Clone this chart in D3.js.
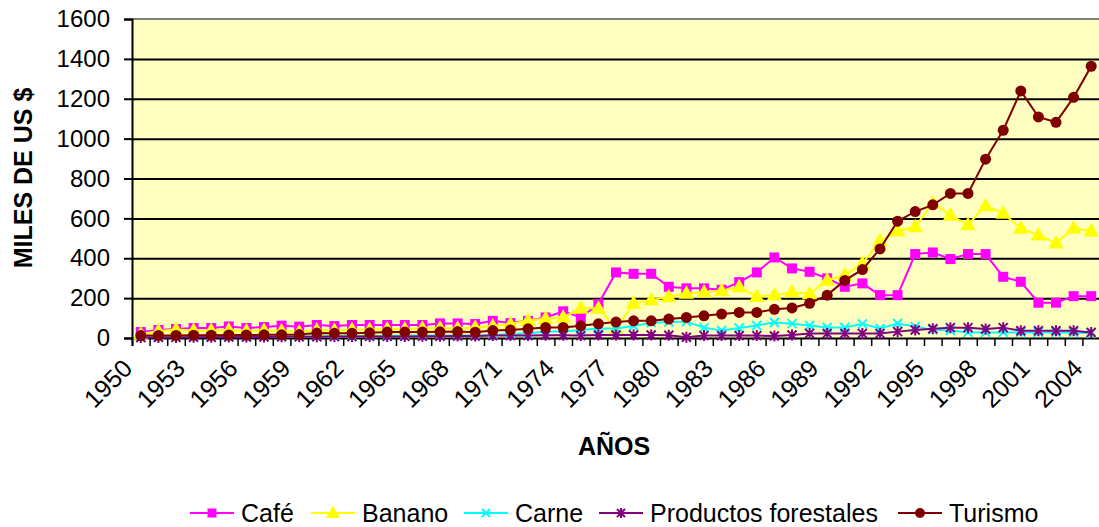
<!DOCTYPE html>
<html>
<head>
<meta charset="utf-8">
<script src="https://cdn.jsdelivr.net/npm/d3@7"></script>
<style>
  html, body { margin: 0; padding: 0; background: #ffffff; }
  svg { display: block; font-family: "Liberation Sans", Arial, sans-serif; }
</style>
</head>
<body>
<svg id="chart" width="1099" height="527"></svg>
<script>
// Exportaciones e ingresos por turismo, 1950-2004 (miles de US $)
const years = d3.range(1950, 2005);

const cafe = [30, 40, 45, 50, 50, 58, 50, 55, 62, 57, 65, 60, 65, 65, 65, 65, 65, 73, 73, 70,
  86, 75, 86, 103, 134, 103, 170, 329, 322, 322, 257, 249, 249, 242, 280, 329, 404, 349, 332, 299,
  257, 274, 215, 215, 421, 429, 396, 421, 421, 307, 282, 177, 177, 210, 210];

const banano = [20, 35, 42, 38, 38, 40, 35, 38, 35, 30, 40, 38, 42, 42, 45, 45, 48, 50, 48, 53,
  60, 70, 88, 97, 104, 149, 149, 45, 174, 190, 207, 224, 230, 237, 257, 208, 215, 230, 222, 290,
  316, 374, 487, 537, 558, 677, 616, 568, 663, 625, 550, 516, 476, 551, 537];

const carne = [5, 5, 6, 6, 6, 7, 7, 8, 8, 8, 8, 9, 10, 10, 10, 12, 12, 12, 12, 13,
  15, 20, 22, 32, 33, 40, 48, 48, 60, 77, 80, 82, 52, 38, 50, 63, 78, 72, 63, 53,
  53, 71, 48, 73, 57, 42, 38, 28, 28, 28, 28, 28, 28, 27, 24];

const forestales = [2, 3, 3, 4, 4, 5, 5, 5, 6, 6, 6, 7, 7, 8, 8, 8, 9, 9, 10, 10,
  12, 12, 12, 14, 14, 12, 15, 15, 15, 15, 14, 4, 12, 12, 12, 12, 10, 15, 23, 23,
  23, 23, 23, 32, 40, 46, 52, 52, 45, 52, 36, 36, 36, 36, 28];

const turismo = [12, 13, 13, 14, 14, 15, 15, 16, 16, 17, 25, 24, 24, 26, 30, 30, 30, 31, 32, 29,
  37, 40, 46, 53, 53, 61, 71, 80, 86, 86, 95, 103, 111, 120, 128, 128, 144, 151, 174, 215,
  289, 343, 447, 586, 634, 668, 725, 725, 897, 1042, 1239, 1109, 1082, 1207, 1363];

const yTicks = [0, 200, 400, 600, 800, 1000, 1200, 1400, 1600];
const yearLabels = d3.range(1950, 2005, 3);

const seriesNames = ["Café", "Banano", "Carne", "Productos forestales", "Turismo"];
const seriesValues = [cafe, banano, carne, forestales, turismo];
const seriesColors = ["#FF00FF", "#FFFF00", "#00FFFF", "#800080", "#800000"];
const seriesMarkers = ["square", "triangle", "cross", "star", "circle"];

const svg = d3.select("#chart");
const plot = { left: 132, right: 1100, top: 19, bottom: 338 };

const x = d3.scaleBand().domain(years).range([plot.left, plot.right]);
const xEdges = d3.scaleLinear().domain([0, years.length]).range([plot.left, plot.right]);
const y = d3.scaleLinear().domain([0, 1600]).range([plot.bottom, plot.top]);
const cx = yr => x(yr) + x.bandwidth() / 2;

// plot background
svg.append("rect")
  .attr("x", plot.left).attr("y", plot.top)
  .attr("width", plot.right - plot.left).attr("height", plot.bottom - plot.top)
  .attr("fill", "#FFFFC0");

// horizontal gridlines
svg.append("g")
  .attr("transform", `translate(${plot.left},0)`)
  .call(d3.axisLeft(y).tickValues(yTicks.slice(1, -1)).tickSize(-(plot.right - plot.left)).tickFormat(""))
  .call(g => g.select(".domain").remove())
  .call(g => g.selectAll("line").attr("stroke", "#000").attr("stroke-width", 2));

// top border
svg.append("line")
  .attr("x1", plot.left).attr("x2", plot.right)
  .attr("y1", y(1600)).attr("y2", y(1600))
  .attr("stroke", "#808080").attr("stroke-width", 2);

// y axis
svg.append("g")
  .attr("transform", `translate(${plot.left},0)`)
  .call(d3.axisLeft(y).tickValues(yTicks).tickSize(8).tickPadding(14).tickFormat(d3.format("d")))
  .call(g => g.select(".domain").attr("stroke", "#000").attr("stroke-width", 2))
  .call(g => g.selectAll("line").attr("stroke", "#000").attr("stroke-width", 2))
  .call(g => g.selectAll("text").attr("font-size", 24).attr("fill", "#000")
    .attr("font-family", "Liberation Sans, Arial, sans-serif"));

// x axis with tick marks between categories
svg.append("g")
  .attr("transform", `translate(0,${plot.bottom})`)
  .call(d3.axisBottom(xEdges).tickValues(d3.range(0, years.length + 1)).tickSize(8).tickFormat(""))
  .call(g => g.select(".domain").attr("stroke", "#000").attr("stroke-width", 2))
  .call(g => g.selectAll("line").attr("stroke", "#000").attr("stroke-width", 1.5));

// year labels, rotated
svg.append("g").selectAll("text")
  .data(yearLabels)
  .join("text")
  .attr("transform", d => `translate(${cx(d) - 7},${plot.bottom + 32}) rotate(-45)`)
  .attr("text-anchor", "end")
  .attr("font-size", 25)
  .attr("fill", "#000")
  .text(d => d);

// axis titles
svg.append("text")
  .attr("transform", `translate(32,178) rotate(-90)`)
  .attr("text-anchor", "middle")
  .attr("font-size", 25).attr("font-weight", "bold")
  .text("MILES DE US $");

svg.append("text")
  .attr("x", 614).attr("y", 455)
  .attr("text-anchor", "middle")
  .attr("font-size", 25).attr("font-weight", "bold")
  .text("AÑOS");

// marker drawing
function drawMarker(sel, kind, color, size) {
  const s = size;
  if (kind === "square") {
    sel.append("rect").attr("x", -s / 2).attr("y", -s / 2).attr("width", s).attr("height", s)
      .attr("fill", color);
  } else if (kind === "triangle") {
    sel.append("path").attr("d", `M0,${-s * 0.62}L${s * 0.6},${s * 0.42}L${-s * 0.6},${s * 0.42}Z`)
      .attr("fill", color);
  } else if (kind === "circle") {
    sel.append("circle").attr("r", s / 2).attr("fill", color);
  } else if (kind === "cross") {
    const h = s / 2;
    sel.append("path").attr("d", `M${-h},${-h}L${h},${h}M${-h},${h}L${h},${-h}`)
      .attr("stroke", color).attr("stroke-width", 2);
  } else if (kind === "star") {
    const h = s / 2;
    sel.append("path").attr("d", `M${-h},${-h}L${h},${h}M${-h},${h}L${h},${-h}M0,${-h - 1}L0,${h + 1}`)
      .attr("stroke", color).attr("stroke-width", 2);
  }
}
const markerSize = [10, 13, 9, 9, 11];

// series
const line = d3.line().x((d, i) => cx(years[i])).y(d => y(d));
seriesValues.forEach((vals, k) => {
  const g = svg.append("g");
  g.append("path")
    .attr("d", line(vals))
    .attr("fill", "none")
    .attr("stroke", seriesColors[k])
    .attr("stroke-width", 2);
  g.selectAll("g.m")
    .data(vals)
    .join("g")
    .attr("class", "m")
    .attr("transform", (d, i) => `translate(${cx(years[i])},${y(d)})`)
    .each(function () { drawMarker(d3.select(this), seriesMarkers[k], seriesColors[k], markerSize[k]); });
});

// legend: one row of swatches along the bottom
const legendStarts = [190, 311, 464, 599, 898];
const legend = svg.append("g").attr("transform", "translate(0,513)");
seriesNames.forEach((name, k) => {
  const lx = legendStarts[k];
  const item = legend.append("g");
  item.append("line")
    .attr("x1", lx).attr("x2", lx + 44)
    .attr("stroke", seriesColors[k]).attr("stroke-width", 2);
  const m = item.append("g").attr("transform", `translate(${lx + 22},0)`);
  drawMarker(m, seriesMarkers[k], seriesColors[k], markerSize[k] - 1);
  item.append("text")
    .attr("x", lx + 51).attr("y", 9)
    .attr("font-size", 25)
    .attr("fill", "#000")
    .text(name);
});
</script>
</body>
</html>
